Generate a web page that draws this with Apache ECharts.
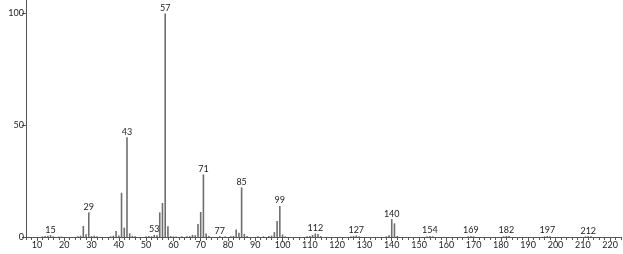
<!DOCTYPE html>
<html>
<head>
<meta charset="utf-8">
<script src="https://cdn.jsdelivr.net/npm/echarts@6/dist/echarts.min.js"></script>
<style>
html,body{margin:0;padding:0;background:#fff;}
#c{width:623px;height:254px;}
</style>
</head>
<body>
<div id="c"></div>
<script>
const masses = [12,13,14,15,16,18,19,25,26,27,28,29,30,31,32,37,38,39,40,41,42,43,44,45,46,
  50,51,52,53,54,55,56,57,58,59,60,61,63,65,66,67,68,69,70,71,72,73,77,79,81,82,83,84,85,86,87,
  91,93,95,96,97,98,99,100,101,109,110,111,112,113,114,125,126,127,128,138,139,140,141,142,
  153,154,155,168,169,170,181,182,183,196,197,198,211,212,213];
const intensities = [0.3,0.4,0.6,0.8,0.3,0.2,0.2,0.3,0.6,4.9,1.2,11.0,0.4,0.6,0.3,0.3,0.6,2.7,0.7,19.8,4.2,44.6,1.6,0.5,0.3,
  0.3,0.4,0.3,0.9,0.8,11.0,15.2,100,4.8,0.4,0.3,0.2,0.3,0.3,0.4,0.9,0.8,5.8,11.2,28.0,1.6,0.5,0.4,0.3,0.4,0.5,3.3,1.9,22.2,1.4,0.4,
  0.3,0.3,0.4,0.6,2.2,7.2,13.9,1.1,0.3,0.3,0.4,0.9,1.6,1.3,0.4,0.3,0.5,0.7,0.3,0.3,0.8,8.0,6.1,0.5,
  0.3,0.5,0.3,0.3,0.5,0.3,0.3,0.5,0.4,0.3,0.5,0.3,0.3,0.4,0.3];
const labeledMasses = [15,29,43,53,57,71,77,85,99,112,127,140,154,169,182,197,212];
const xTickLabels = [10,20,30,40,50,60,70,80,90,100,110,120,130,140,150,160,170,180,190,200,210,220];
const yTickLabels = [0,50,100];

const minorTicks = [];
for (let v = 6; v <= 224; v += 2) minorTicks.push(v);

const data = masses.map((m, i) => ({
  value: [m, intensities[i]],
  label: { show: labeledMasses.indexOf(m) >= 0 }
}));

const chart = echarts.init(document.getElementById('c'), null, {renderer: 'canvas'});
const font = 'Lato, "DejaVu Sans", sans-serif';
chart.setOption({
  animation: false,
  backgroundColor: '#fff',
  grid: { left: 26, right: 2, top: 0, bottom: 17, containLabel: false },
  xAxis: [{
    type: 'value', min: 6, max: 224,
    axisLine: { show: true, lineStyle: { color: '#555', width: 1 } },
    axisTick: { show: true, length: 3, customValues: minorTicks, lineStyle: { color: '#555' } },
    axisLabel: { show: true, customValues: xTickLabels, margin: 4, fontSize: 9, color: '#222', fontFamily: font },
    splitLine: { show: false }
  }, {
    type: 'value', min: 6, max: 224, position: 'bottom',
    axisLine: { show: false },
    axisTick: { show: true, length: 4, customValues: xTickLabels, lineStyle: { color: '#555' } },
    axisLabel: { show: false },
    splitLine: { show: false }
  }],
  yAxis: {
    type: 'value', min: 0, max: 106,
    axisLine: { show: true, lineStyle: { color: '#555', width: 1 } },
    axisTick: { show: true, length: 4, customValues: yTickLabels, lineStyle: { color: '#555' } },
    axisLabel: { show: true, margin: 2, fontSize: 9, color: '#222', fontFamily: font,
      customValues: yTickLabels },
    splitLine: { show: false }
  },
  series: [{
    type: 'bar',
    xAxisIndex: 0,
    barWidth: 1.6,
    itemStyle: { color: '#6e6e6e' },
    label: { position: 'top', distance: 1, fontSize: 9, color: '#222', fontFamily: font,
      formatter: p => String(p.value[0]) },
    data: data
  }]
});
</script>
</body>
</html>
